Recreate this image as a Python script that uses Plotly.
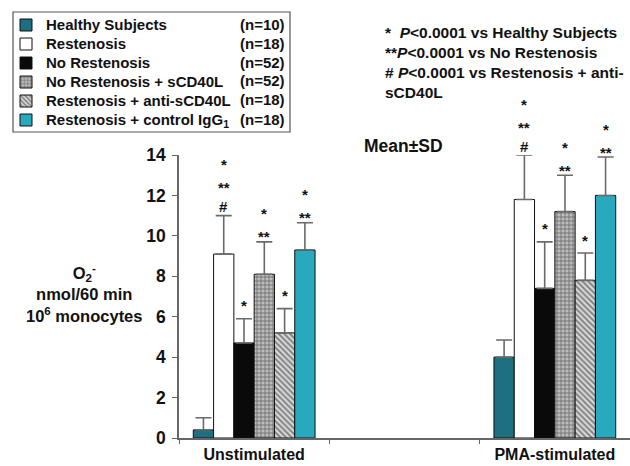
import plotly.graph_objects as go

# ---- data -------------------------------------------------------------
groups = ["Unstimulated", "PMA-stimulated"]
group_pos = [0.5, 2.5]          # centres on a 0..3 axis (middle slot left empty)

series = [
    "Healthy Subjects",
    "Restenosis",
    "No Restenosis",
    "No Restenosis + sCD40L",
    "Restenosis + anti-sCD40L",
    "Restenosis + control IgG<sub>1</sub>",
]
n_labels = ["(n=10)", "(n=18)", "(n=52)", "(n=52)", "(n=18)", "(n=18)"]

# mean values (Unstimulated, PMA-stimulated)
means = [
    [0.4, 4.0],
    [9.1, 11.8],
    [4.7, 7.4],
    [8.1, 11.2],
    [5.2, 7.8],
    [9.3, 12.0],
]
# standard deviations (upper whisker only)
sds = [
    [0.6, 0.85],
    [1.9, 2.2],
    [1.2, 2.3],
    [1.6, 1.8],
    [1.2, 1.35],
    [1.35, 1.9],
]
# significance marks, listed bottom to top
marks = [
    [[], []],
    [["#", "**", "*"], ["#", "**", "*"]],
    [["*"], ["*"]],
    [["**", "*"], ["**", "*"]],
    [["*"], ["*"]],
    [["**", "*"], ["**", "*"]],
]
y_ticks = [0, 2, 4, 6, 8, 10, 12, 14]

# ---- styling ----------------------------------------------------------
FONT = "Liberation Sans, Arial, sans-serif"
W, H = 630, 466
ML, MR, MT, MB = 179, 0, 155, 28

fills = [
    dict(color="#1e6f80"),
    dict(color="#ffffff"),
    dict(color="#0a0a0a"),
    dict(color="#b0b0b0", pattern=dict(shape="+", fgcolor="#2a2a2a", bgcolor="#bdbdbd", size=4, solidity=0.42)),
    dict(color="#ffffff", pattern=dict(shape="\\", fgcolor="#2a2a2a", bgcolor="#dcdcdc", size=4, solidity=0.5)),
    dict(color="#29a9bd"),
]

bar_w = 0.135
offsets = [-3 * bar_w + i * bar_w for i in range(len(series))]


def px_x(px):
    return (px - ML) / (W - ML - MR)


def px_y(py):
    return (H - MB - py) / (H - MT - MB)


def bold(size, color="#111"):
    return dict(family=FONT, size=size, color=color, weight="bold")


fig = go.Figure()
for i, name in enumerate(series):
    fig.add_trace(go.Bar(
        # the legend font sets a compact row pitch; the span sets the visible size
        name=f'<span style="font-size:15px">{name}</span>',
        x=group_pos,
        y=means[i],
        width=bar_w,
        offset=offsets[i],
        marker=dict(**fills[i], line=dict(color="#111111", width=1)),
        error_y=dict(type="data", array=sds[i], arrayminus=[0, 0], symmetric=False,
                     color="#6a6a6a", thickness=1.6, width=8),
    ))

annotations = []
# significance symbols above each whisker
for i in range(len(series)):
    for g, gx in enumerate(group_pos):
        top = means[i][g] + sds[i][g]
        xc = gx + offsets[i] + bar_w / 2
        stack = marks[i][g]
        base = 17 if stack == ["*"] else 9
        for k, sym in enumerate(stack):
            shift = base + 23 * k
            if sym != "#":
                shift -= 4
            annotations.append(dict(
                x=xc, y=top, xref="x", yref="y", text=sym, showarrow=False,
                yshift=shift, font=bold(15),
            ))

# sample sizes, right-aligned inside the legend box
for j, n in enumerate(n_labels):
    annotations.append(dict(
        x=px_x(287), y=px_y(24 + 19 * j), xref="paper", yref="paper", text=n,
        xanchor="right", yanchor="middle", showarrow=False, font=bold(15),
    ))

annotations += [
    dict(x=px_x(383), y=px_y(22), xref="paper", yref="paper", xanchor="left", yanchor="top",
         align="left", showarrow=False,
         text="*  <i>P</i><0.0001 vs Healthy Subjects<br>**<i>P</i><0.0001 vs No Restenosis"
              "<br># <i>P</i><0.0001 vs Restenosis + anti-<br>sCD40L",
         font=bold(15.5)),
    dict(x=px_x(403), y=px_y(146), xref="paper", yref="paper", text="Mean±SD", showarrow=False,
         xanchor="center", yanchor="middle", font=bold(17.5)),
    dict(x=px_x(84), y=px_y(293), xref="paper", yref="paper", showarrow=False, align="center",
         xanchor="center", yanchor="middle",
         text="O<sub>2</sub><sup>-</sup><br>nmol/60 min<br>10<sup>6</sup> monocytes",
         font=bold(16.5)),
]

fig.update_layout(
    width=W, height=H,
    margin=dict(l=ML, r=MR, t=MT, b=MB),
    paper_bgcolor="white", plot_bgcolor="white",
    barmode="overlay",
    showlegend=True,
    legend=dict(
        x=px_x(6), y=px_y(10.5), xanchor="left", yanchor="top",
        bgcolor="rgba(0,0,0,0)", borderwidth=0,
        font=bold(12.3),
        traceorder="normal", itemclick=False,
    ),
    shapes=[dict(type="rect", xref="paper", yref="paper",
                 x0=px_x(13), x1=px_x(290), y0=px_y(132), y1=px_y(12),
                 line=dict(color="#555", width=1.2))],
    annotations=annotations,
    xaxis=dict(
        range=[0, 3], tickvals=group_pos, ticktext=groups, ticks="",
        showline=True, linecolor="#666", linewidth=1.5, showgrid=False, zeroline=False,
        tickfont=bold(16), ticklabelstandoff=1,
        minor=dict(tickvals=[0, 1, 2], ticks="outside", ticklen=4, tickcolor="#666"),
    ),
    yaxis=dict(
        range=[0, 14], tickvals=y_ticks, ticks="outside", ticklen=5, tickcolor="#666",
        showline=True, linecolor="#666", linewidth=1.5, showgrid=False, zeroline=False,
        tickfont=bold(17.5), ticklabelstandoff=3,
    ),
)

fig.write_html("out.html")
